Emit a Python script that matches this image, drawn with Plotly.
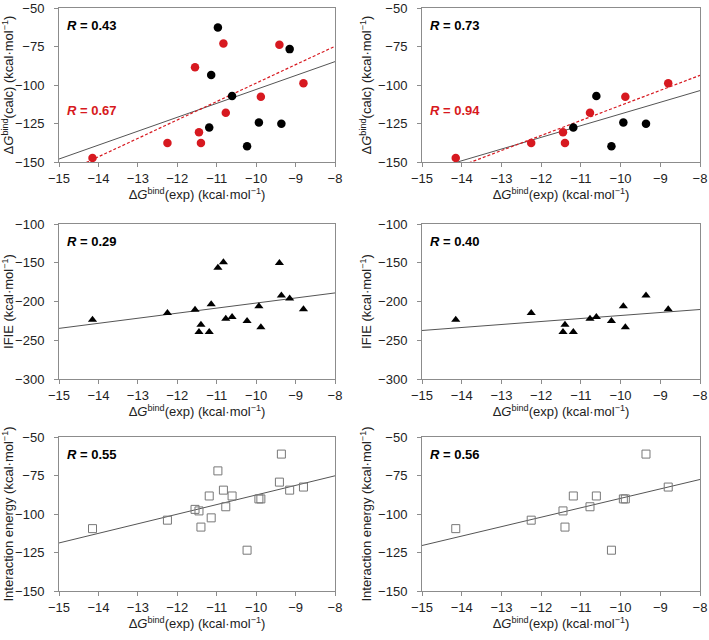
import numpy as np
import plotly.graph_objects as go

# ---------------- data (18 compounds) ----------------
dg_exp = [-14.15, -12.25, -11.55, -11.45, -11.40, -11.19, -11.14, -10.97, -10.83,
          -10.77, -10.61, -10.23, -9.93, -9.88, -9.41, -9.36, -9.15, -8.80]
dg_calc = [-147.4, -137.6, -88.5, -130.7, -137.6, -127.6, -93.5, -62.6, -73.0,
           -118.0, -107.2, -139.8, -124.3, -107.6, -73.9, -125.2, -76.7, -98.9]
ifie = [-223.4, -214.7, -210.8, -239.4, -229.9, -239.4, -203.5, -156.3, -149.4,
        -222.1, -219.9, -225.1, -206.1, -233.3, -150.2, -192.2, -196.1, -210.0]
inter_energy = [-109.5, -104.0, -97.0, -98.0, -108.5, -88.3, -102.5, -72.0, -84.5,
                -95.3, -88.3, -123.5, -90.2, -90.2, -79.3, -61.1, -84.5, -82.5]
is_red = [1, 1, 1, 1, 1, 0, 0, 0, 1, 1, 0, 0, 0, 1, 1, 0, 0, 1]
in_subset = [1, 1, 0, 1, 1, 1, 0, 0, 0, 1, 1, 1, 1, 1, 0, 1, 0, 1]

r_calc = ["0.43", "0.73"]
r_calc_red = ["0.67", "0.94"]
r_ifie = ["0.29", "0.40"]
r_inter = ["0.55", "0.56"]

x_ticks = [-15, -14, -13, -12, -11, -10, -9, -8]
calc_ticks = [-50, -75, -100, -125, -150]
ifie_ticks = [-100, -150, -200, -250, -300]
inter_ticks = [-50, -75, -100, -125, -150]

RED = "#d71920"
FONT = "Arial, Liberation Sans, sans-serif"
W, H = 709, 640

xt = "Δ<i>G</i><sup>bind</sup>(exp) (kcal·mol<sup>−1</sup>)"
yt_calc = "Δ<i>G</i><sup>bind</sup>(calc) (kcal·mol<sup>−1</sup>)"
yt_ifie = "IFIE (kcal·mol<sup>−1</sup>)"
yt_inter = "Interaction energy (kcal·mol<sup>−1</sup>)"

# panel pixel boxes (left, right, top, bottom)
cols = [(59, 335), (422, 700)]
rows = [(8, 162), (224, 379), (437, 591)]

fig = go.Figure()
layout = {}


def sel(vals, mask):
    return [v for v, m in zip(vals, mask) if m]


def fit_line(xs, ys):
    k, b = np.polyfit(xs, ys, 1)
    xl = np.array([-15.0, -8.0])
    return xl, k * xl + b


idx = 0
for r, (top, bot) in enumerate(rows):
    for c, (left, right) in enumerate(cols):
        idx += 1
        xa = "x" if idx == 1 else f"x{idx}"
        ya = "y" if idx == 1 else f"y{idx}"
        mask = [1] * 18 if c == 0 else in_subset
        xs = sel(dg_exp, mask)
        if r == 0:
            yvals, ticks, ytitle, rng = dg_calc, calc_ticks, yt_calc, [-150, -50]
        elif r == 1:
            yvals, ticks, ytitle, rng = ifie, ifie_ticks, yt_ifie, [-300, -100]
        else:
            yvals, ticks, ytitle, rng = inter_energy, inter_ticks, yt_inter, [-150, -50]
        ys = sel(yvals, mask)
        reds = sel(is_red, mask)

        # regression line (all points)
        lx, ly = fit_line(xs, ys)
        fig.add_trace(go.Scatter(x=lx, y=ly, mode="lines", xaxis=xa, yaxis=ya,
                                 line=dict(color="#555555", width=1), showlegend=False,
                                 hoverinfo="skip"))
        if r == 0:
            rx = [v for v, m in zip(xs, reds) if m]
            ry = [v for v, m in zip(ys, reds) if m]
            lx2, ly2 = fit_line(rx, ry)
            fig.add_trace(go.Scatter(x=lx2, y=ly2, mode="lines", xaxis=xa, yaxis=ya,
                                     line=dict(color=RED, width=1.2, dash="3px,2px"),
                                     showlegend=False, hoverinfo="skip"))
            bx = [v for v, m in zip(xs, reds) if not m]
            by = [v for v, m in zip(ys, reds) if not m]
            fig.add_trace(go.Scatter(x=bx, y=by, mode="markers", xaxis=xa, yaxis=ya,
                                     marker=dict(color="black", size=8.5), showlegend=False))
            fig.add_trace(go.Scatter(x=rx, y=ry, mode="markers", xaxis=xa, yaxis=ya,
                                     marker=dict(color=RED, size=8.5), showlegend=False))
        elif r == 1:
            fig.add_trace(go.Scatter(x=xs, y=ys, mode="markers", xaxis=xa, yaxis=ya,
                                     marker=dict(color="black", size=8, symbol="triangle-up"),
                                     showlegend=False))
        else:
            fig.add_trace(go.Scatter(x=xs, y=ys, mode="markers", xaxis=xa, yaxis=ya,
                                     marker=dict(color="rgba(0,0,0,0)", size=8, symbol="square",
                                                 line=dict(color="#777777", width=1)),
                                     showlegend=False))

        axcommon = dict(showgrid=False, zeroline=False, showline=True, mirror=True,
                        linecolor="#8c8c8c", linewidth=1, ticks="outside", ticklen=4,
                        tickcolor="#8c8c8c", automargin=False, ticklabeloverflow="allow",
                        tickfont=dict(size=13, color="#222", family=FONT))
        kx = "xaxis" if idx == 1 else f"xaxis{idx}"
        ky = "yaxis" if idx == 1 else f"yaxis{idx}"
        layout[kx] = dict(axcommon, domain=[left / W, right / W], anchor=ya,
                          range=[-15, -8], tickvals=x_ticks,
                          title=dict(text=xt, font=dict(size=13, color="#222", family=FONT), standoff=5))
        layout[ky] = dict(axcommon, domain=[1 - bot / H, 1 - top / H], anchor=xa,
                          range=rng, tickvals=ticks, ticklabelstandoff=7,
                          title=dict(text=ytitle, font=dict(size=13, color="#222", family=FONT), standoff=3))

        # R annotations
        if r == 0:
            rtxt = r_calc[c]
        elif r == 1:
            rtxt = r_ifie[c]
        else:
            rtxt = r_inter[c]
        fig.add_annotation(x=(left + 6) / W, y=1 - (top + 17) / H, xref="paper", yref="paper",
                           text=f"<b><i>R</i> = {rtxt}</b>", showarrow=False,
                           xanchor="left", yanchor="middle",
                           font=dict(size=13, color="black", family=FONT))
        if r == 0:
            fig.add_annotation(x=(left + 6) / W, y=1 - (top + 102) / H, xref="paper", yref="paper",
                               text=f"<b><i>R</i> = {r_calc_red[c]}</b>", showarrow=False,
                               xanchor="left", yanchor="middle",
                               font=dict(size=13, color=RED, family=FONT))

fig.update_layout(width=W, height=H, margin=dict(l=0, r=0, t=0, b=0, autoexpand=False),
                  paper_bgcolor="white", plot_bgcolor="white", hovermode=False,
                  font=dict(family=FONT, size=13, color="#222"), **layout)

fig.write_html("out.html", config={"displayModeBar": False},
               post_script="document.body.style.margin='0';document.body.style.overflow='hidden';")
